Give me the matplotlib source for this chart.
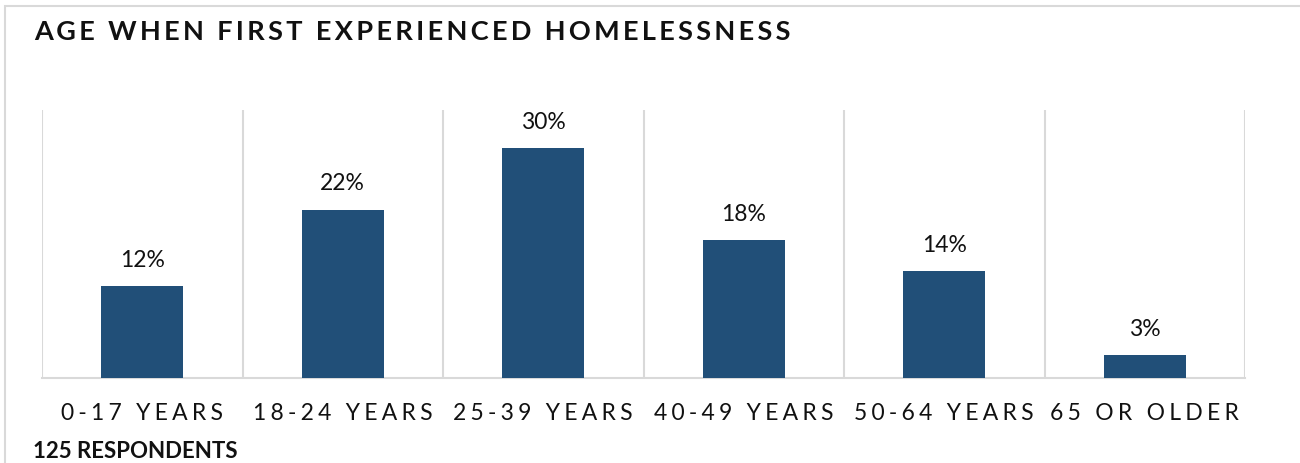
import matplotlib.pyplot as plt
from matplotlib.patches import Rectangle

# data
categories = ["0-17 YEARS", "18-24 YEARS", "25-39 YEARS", "40-49 YEARS", "50-64 YEARS", "65 OR OLDER"]
shares = [12, 22, 30, 18, 14, 3]
respondents = 125

plt.rcParams['font.family'] = ['Lato', 'DejaVu Sans']

BAR = '#214F78'
GRID = '#D9D9D9'


def spaced(s, gap='\u2009'):
    # fake letter spacing
    return gap.join(s)


fig = plt.figure(figsize=(13, 4.63), dpi=100)
ax = fig.add_axes([42 / 1300, 1 - 378 / 463, (1245 - 42) / 1300, (378 - 110) / 463])

x = range(len(categories))
bars = ax.bar(x, shares, width=0.41, color=BAR, zorder=3)
ax.bar_label(bars, labels=[f"{v}%" for v in shares], padding=11, fontsize=16.5, color='#111111')

ax.set_xlim(-0.5, len(categories) - 0.5)
ax.set_ylim(0, 35)
ax.set_yticks([])

# vertical separators between categories
for b in [i - 0.5 for i in range(len(categories) + 1)]:
    ax.axvline(b, color=GRID, lw=1.5, zorder=1)

for side in ['top', 'right', 'left']:
    ax.spines[side].set_visible(False)
ax.spines['bottom'].set_color(GRID)
ax.spines['bottom'].set_linewidth(1.5)

ax.set_xticks(list(x))
ax.set_xticklabels([spaced(c, '\u2009\u200a') for c in categories], fontsize=16.5, color='#111111')
ax.tick_params(axis='x', length=0, pad=18)

fig.text(34 / 1300, 1 - 32 / 463, spaced("AGE WHEN FIRST EXPERIENCED HOMELESSNESS"),
         fontsize=19.5, fontweight='bold', va='center', ha='left', color='#111111')
fig.text(33 / 1300, 1 - 452 / 463, f"{respondents} RESPONDENTS",
         fontsize=16, fontweight='bold', va='center', ha='left', color='#111111')

# outer chart frame (only top and left visible)
fig.patches.append(Rectangle((5 / 1300, -0.1), 1.1, 1 - 6 / 463 + 0.1, transform=fig.transFigure,
                             fill=False, edgecolor=GRID, lw=1.5))

plt.savefig('out.png', dpi=100)
